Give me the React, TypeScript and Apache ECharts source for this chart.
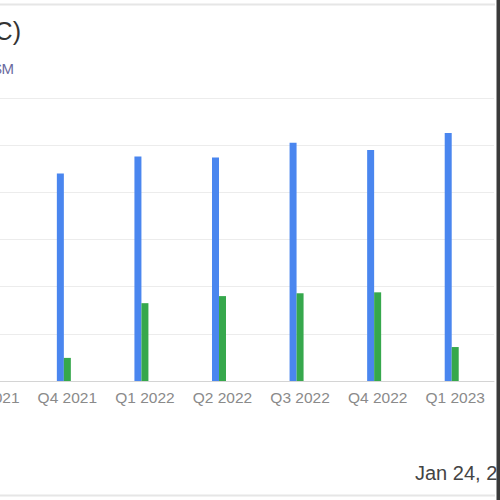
import React, { useEffect, useRef } from 'react';
import * as echarts from 'echarts';

// quarters along the x axis (the first one is mostly off the left edge)
const quarters = ['Q3 2021', 'Q4 2021', 'Q1 2022', 'Q2 2022', 'Q3 2022', 'Q4 2022', 'Q1 2023'];

// $M (100 per line)
const revenue = [425, 440, 476, 474, 505, 490, 526];
const netIncome = [110, 49, 165, 180, 186, 188, 72];
// third slot in each group holds no value in the picture
const otherValues = [null, null, null, null, null, null, null];

const yTicks = { min: 0, max: 600, interval: 100 };

const titleText = 'Revenue & Net Income (ABC)';
const subtitleText = 'Quarterly, $M';
const dateText = 'Jan 24, 2024';

// the chart is wider than the window and shifted left, so its left part is cut off
const SHIFT = 60;

const App = () => {
  const chartRef = useRef<HTMLDivElement>(null);

  useEffect(() => {
    if (!chartRef.current) return;

    const chart = echarts.init(chartRef.current, null, { renderer: 'svg' });

    chart.setOption({
      animation: false,
      grid: {
        left: SHIFT - 49,
        right: 6,
        top: 98,
        bottom: 119,
        containLabel: false,
      },
      xAxis: {
        type: 'category',
        data: quarters,
        axisLine: { lineStyle: { color: '#d4d4d4', width: 1 } },
        axisTick: { show: false },
        axisLabel: {
          interval: 0,
          color: '#8a8a8a',
          fontSize: 15.5,
          fontFamily: 'Liberation Sans',
          margin: 8,
        },
      },
      yAxis: {
        type: 'value',
        min: yTicks.min,
        max: yTicks.max,
        interval: yTicks.interval,
        axisLabel: { show: false },
        axisLine: { show: false },
        axisTick: { show: false },
        splitLine: { lineStyle: { color: '#ececec', width: 1 } },
      },
      series: [
        {
          name: 'Revenue',
          type: 'bar',
          data: revenue,
          barWidth: 7,
          barGap: '0%',
          itemStyle: { color: '#4a86ef' },
        },
        {
          name: 'Net Income',
          type: 'bar',
          data: netIncome,
          barWidth: 7,
          barGap: '0%',
          itemStyle: { color: '#36a84c' },
        },
        {
          name: 'Other',
          type: 'bar',
          data: otherValues,
          barWidth: 7,
          barGap: '0%',
          itemStyle: { color: '#fbbc05' },
        },
      ],
      graphic: [
        {
          type: 'line',
          shape: { x1: 0, y1: 4.5, x2: SHIFT + 495, y2: 4.5 },
          style: { stroke: '#e6e6e6', lineWidth: 2 },
        },
        {
          type: 'line',
          shape: { x1: 0, y1: 495.5, x2: SHIFT + 495, y2: 495.5 },
          style: { stroke: '#e6e6e6', lineWidth: 2 },
        },
        {
          type: 'text',
          x: SHIFT + 21,
          y: 18,
          style: {
            text: titleText,
            align: 'right',
            textAlign: 'right',
            verticalAlign: 'top',
            textVerticalAlign: 'top',
            fontSize: 25,
            fontFamily: 'Liberation Sans',
            fill: '#333333',
          },
        },
        {
          type: 'text',
          x: SHIFT + 14,
          y: 61,
          style: {
            text: subtitleText,
            align: 'right',
            textAlign: 'right',
            verticalAlign: 'top',
            textVerticalAlign: 'top',
            fontSize: 15,
            fontFamily: 'Liberation Sans',
            fill: '#6a6a9e',
          },
        },
        {
          type: 'text',
          x: SHIFT + 415,
          y: 463,
          style: {
            text: dateText,
            align: 'left',
            textAlign: 'left',
            verticalAlign: 'top',
            textVerticalAlign: 'top',
            fontSize: 20,
            fontFamily: 'Liberation Sans',
            fill: '#444444',
          },
        },
        {
          type: 'rect',
          shape: { x: SHIFT + 496.5, y: 0, width: 10, height: 500 },
          style: { fill: '#3a3a3a' },
          z: 100,
        },
      ],
    });

    return () => {
      chart.dispose();
    };
  }, []);

  return (
    <div
      style={{
        position: 'absolute',
        left: 0,
        top: 0,
        width: 500,
        height: 500,
        overflow: 'hidden',
        background: '#ffffff',
      }}
    >
      <div
        ref={chartRef}
        style={{ position: 'absolute', left: -SHIFT, top: 0, width: 500 + SHIFT, height: 500 }}
      />
    </div>
  );
};

export default App;
